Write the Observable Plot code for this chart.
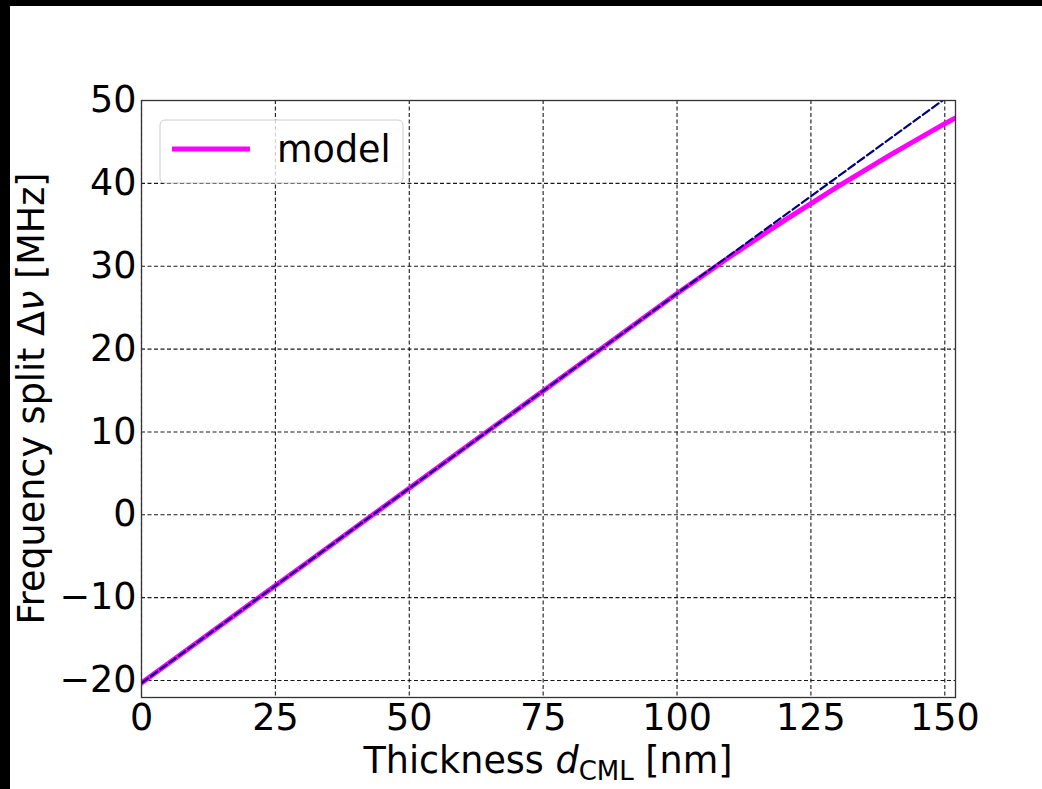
<!DOCTYPE html>
<html>
<head>
<meta charset="utf-8">
<script src="https://cdn.jsdelivr.net/npm/d3@7"></script>
<script src="https://cdn.jsdelivr.net/npm/@observablehq/plot@0.6"></script>
<style>
  html, body { margin: 0; padding: 0; background: #000; }
  #frame { position: absolute; left: 10px; top: 6px; width: 1032px; height: 783px; background: #fff; }
  #frame svg { display: block; }
</style>
</head>
<body>
<div id="frame"></div>
<script>
// ---- data ----
const thickness  = [0, 10, 20, 30, 40, 50, 60, 70, 80, 90, 100, 110, 120, 130, 140, 150, 152];
const splitModel = [-20.3, -15.6, -10.9, -6.2, -1.5, 3.2, 7.9, 12.6, 17.3, 22.0, 26.7, 31.2, 35.5, 39.6, 43.5, 47.2, 47.9];
const fitThickness = [0, 152];
const fitSplit     = [-20.3, 51.14];
const xTicks = [0, 25, 50, 75, 100, 125, 150];
const yTicks = [-20, -10, 0, 10, 20, 30, 40, 50];
const legendLabel = "model";

const modelRows = thickness.map((d, i) => ({d, v: splitModel[i]}));
const fitRows = fitThickness.map((d, i) => ({d, v: fitSplit[i]}));
const minus = v => v < 0 ? "\u2212" + Math.abs(v) : String(v);

const W = 1032, H = 783, FS = 36.5;
const plot = Plot.plot({
  width: W,
  height: H,
  marginLeft: 131,
  marginRight: 87,
  marginTop: 94,
  marginBottom: 92,
  style: {fontFamily: "'DejaVu Sans', sans-serif", fontSize: FS + "px", background: "#fff", color: "#000"},
  x: {domain: [0, 152], ticks: xTicks, tickSize: 0, tickPadding: 7, label: null, tickFormat: minus},
  y: {domain: [-22.05, 50], ticks: yTicks, tickSize: 0, tickPadding: 5, label: null, tickFormat: minus},
  marks: [
    Plot.ruleX(xTicks, {x: d => d, stroke: "#000", strokeOpacity: 0.9, strokeWidth: 1.1, strokeDasharray: "4,2.5"}),
    Plot.ruleY(yTicks, {y: d => d, stroke: "#000", strokeOpacity: 0.9, strokeWidth: 1.1, strokeDasharray: "4,2.5"}),
    Plot.line(modelRows, {x: "d", y: "v", stroke: "#ff00ff", strokeWidth: 5, clip: true}),
    Plot.line(fitRows, {x: "d", y: "v", stroke: "#000080", strokeWidth: 2.2, strokeDasharray: "8,3.5", clip: true}),
    Plot.frame({stroke: "#333", strokeWidth: 1.3})
  ]
});
document.getElementById("frame").appendChild(plot);

const svg = d3.select(plot);
// legend
const lg = svg.append("g");
lg.append("rect").attr("x", 150).attr("y", 114).attr("width", 243).attr("height", 63)
  .attr("rx", 5).attr("fill", "#fff").attr("fill-opacity", 0.8).attr("stroke", "#ccc").attr("stroke-width", 1);
lg.append("line").attr("x1", 162).attr("x2", 240).attr("y1", 143).attr("y2", 143)
  .attr("stroke", "#ff00ff").attr("stroke-width", 5);
lg.append("text").attr("x", 267).attr("y", 156).attr("text-anchor", "start")
  .attr("font-size", FS).attr("fill", "#000").text(legendLabel);

// x label
const xl = svg.append("text").attr("x", 538).attr("y", 767).attr("text-anchor", "middle")
  .attr("font-size", FS).attr("fill", "#000");
xl.append("tspan").text("Thickness ");
xl.append("tspan").attr("font-style", "italic").text("d");
xl.append("tspan").attr("font-size", 26).attr("dy", 7).text("CML");
xl.append("tspan").attr("dy", -7).text(" [nm]");

// y label
const yl = svg.append("text").attr("transform", "translate(34,392.5) rotate(-90)")
  .attr("text-anchor", "middle").attr("font-size", FS).attr("fill", "#000");
yl.append("tspan").text("Frequency split \u0394");
yl.append("tspan").attr("font-style", "italic").text("\u03bd");
yl.append("tspan").text(" [MHz]");
</script>
</body>
</html>
